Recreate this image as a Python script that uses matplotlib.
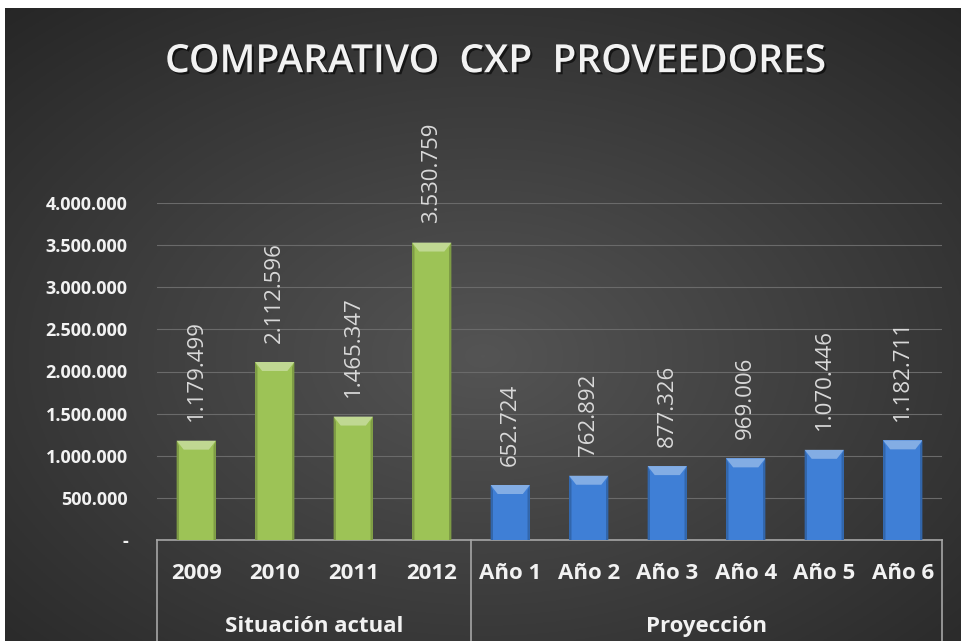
import numpy as np
import matplotlib
matplotlib.use("Agg")
import matplotlib.pyplot as plt
import matplotlib.patheffects as pe
from matplotlib.patches import Polygon
from matplotlib.transforms import blended_transform_factory

# data
categories = ["2009", "2010", "2011", "2012", "Año 1", "Año 2", "Año 3", "Año 4", "Año 5", "Año 6"]
values = [1179499, 2112596, 1465347, 3530759, 652724, 762892, 877326, 969006, 1070446, 1182711]
groups = ["Situación actual", "Proyección"]
group_sizes = [4, 6]
yticks = [0, 500000, 1000000, 1500000, 2000000, 2500000, 3000000, 3500000, 4000000]

green = "#9DC356"
blue = "#3F7FD6"

plt.rcParams["font.family"] = ["Open Sans", "DejaVu Sans"]

fig = plt.figure(figsize=(9.61, 6.41), dpi=100)
fig.patch.set_facecolor("white")

# dark radial background
bg = fig.add_axes([5 / 961, 0, 956 / 961, 633 / 641])
yy, xx = np.mgrid[0:1:300j, 0:1:450j]
r = np.sqrt(((xx - 0.5) / 0.75) ** 2 + ((yy - 0.45) / 0.75) ** 2)
img = np.clip(1 - r, 0, 1)
lo, hi = 0.15, 0.33
gray = lo + (hi - lo) * img
bg.imshow(np.dstack([gray, gray, gray]), aspect="auto", extent=[0, 1, 0, 1], origin="lower")
bg.set_axis_off()

ax = fig.add_axes([157 / 961, 101 / 641, 785 / 961, 337 / 641])
ax.set_facecolor("none")
ax.set_xlim(-0.5, len(categories) - 0.5)
ax.set_ylim(0, 4000000)

colors = [green] * group_sizes[0] + [blue] * group_sizes[1]
x = np.arange(len(categories))
bars = ax.bar(x, values, width=0.5, color=colors, edgecolor="none", zorder=3)

# bevel on bar tops
px_to_data = 4000000 / 337
for b, c in zip(bars, colors):
    x0, w, h = b.get_x(), b.get_width(), b.get_height()
    d = 9 * px_to_data
    ins = w * 0.18
    light = matplotlib.colors.to_rgb(c)
    light = tuple(min(1, v * 0.55 + 0.45) for v in light)
    ax.add_patch(Polygon([[x0, h], [x0 + w, h], [x0 + w - ins, h - d], [x0 + ins, h - d]],
                         closed=True, facecolor=light, edgecolor="none", zorder=4, alpha=0.8))
    dark = tuple(v * 0.8 for v in matplotlib.colors.to_rgb(c))
    ax.add_patch(Polygon([[x0, h], [x0 + w * 0.06, h - d * 0.6], [x0 + w * 0.06, 0], [x0, 0]],
                         closed=True, facecolor=dark, edgecolor="none", zorder=4))
    ax.add_patch(Polygon([[x0 + w, h], [x0 + w * 0.94, h - d * 0.6], [x0 + w * 0.94, 0], [x0 + w, 0]],
                         closed=True, facecolor=dark, edgecolor="none", zorder=4))

# data labels
for xi, v in zip(x, values):
    lbl = f"{v:,}".replace(",", ".")
    ax.annotate(lbl, (xi, v), xytext=(0, 14), textcoords="offset points",
                rotation=90, ha="center", va="bottom", color="#D9D9D9", fontsize=16)

# axes styling
ax.set_yticks(yticks)
ax.set_yticklabels(["-"] + [f"{t:,}".replace(",", ".") for t in yticks[1:]],
                   color="#F2F2F2", fontsize=13, fontweight="bold")
ax.tick_params(axis="y", length=0, pad=21)
ax.set_xticks([])
ax.grid(axis="y", color="#6A6A6A", linewidth=0.8, zorder=0)
for s in ax.spines.values():
    s.set_visible(False)

# category boxes
tr = blended_transform_factory(ax.transData, ax.transAxes)
ax.plot([-0.5, len(categories) - 0.5], [0, 0], color="#A6A6A6", lw=1.2, transform=tr, clip_on=False)
bounds = np.concatenate([[0], np.cumsum(group_sizes)]) - 0.5
for bx in bounds:
    ax.plot([bx, bx], [0, -0.32], color="#A6A6A6", lw=1.2, transform=tr, clip_on=False)
for xi, c in zip(x, categories):
    ax.text(xi, -0.1, c, transform=tr, ha="center", va="center",
            color="#F2F2F2", fontsize=16, fontweight="bold")
for i, g in enumerate(groups):
    ax.text((bounds[i] + bounds[i + 1]) / 2, -0.258, g, transform=tr, ha="center", va="center",
            color="#F2F2F2", fontsize=16, fontweight="bold")

# title
fig.text(0.515, 0.903, "COMPARATIVO  CXP  PROVEEDORES",
         ha="center", va="center", color="#F2F2F2", fontsize=28, fontweight="semibold",
         path_effects=[pe.withSimplePatchShadow(offset=(1.5, -1.5), shadow_rgbFace="black", alpha=0.6)])

fig.savefig("out.png", dpi=100, facecolor="white")
